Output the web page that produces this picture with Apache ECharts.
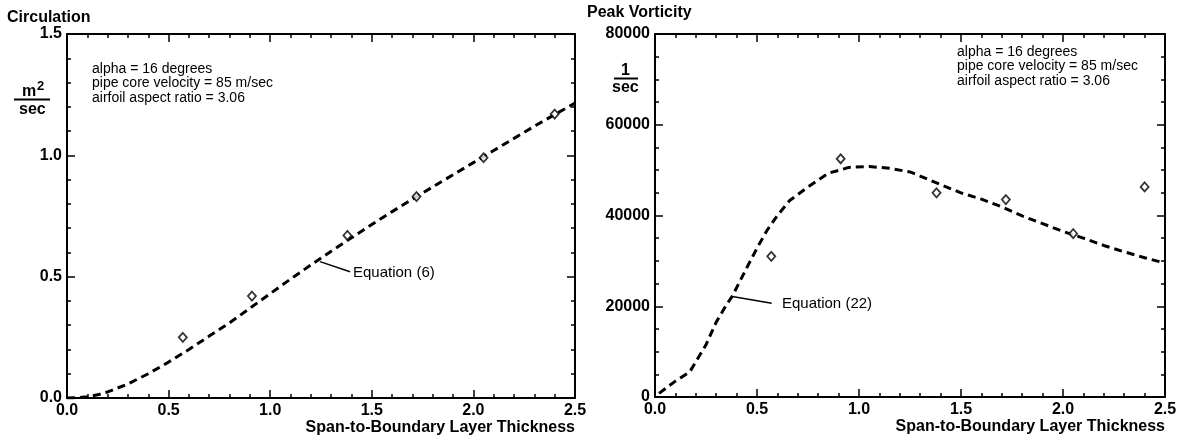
<!DOCTYPE html>
<html>
<head>
<meta charset="utf-8">
<script src="https://cdn.jsdelivr.net/npm/echarts@6/dist/echarts.min.js"></script>
<style>
  html, body { margin: 0; padding: 0; background: #fff; }
  #chart { width: 1187px; height: 441px; }
</style>
</head>
<body>
<div id="chart"></div>
<script>
// Measured span-to-boundary-layer-thickness ratios (shared by both panels)
const spanRatio = [0.57, 0.91, 1.38, 1.72, 2.05, 2.40];
// Measured circulation, m^2/sec
const circulationMeasured = [0.25, 0.42, 0.67, 0.83, 0.99, 1.17];
// Measured peak vorticity, 1/sec
const vorticityMeasured = [31000, 52500, 45000, 43500, 36000, 46300];

// Equation (6) prediction of circulation
const eq6Span = [0, 0.05, 0.1, 0.15, 0.2, 0.3, 0.4, 0.5, 0.6, 0.7, 0.8, 0.9, 1.0, 1.1, 1.2, 1.3,
  1.4, 1.5, 1.6, 1.7, 1.8, 1.9, 2.0, 2.1, 2.2, 2.3, 2.4, 2.5];
const eq6Circulation = [0, 0.001, 0.005, 0.013, 0.025, 0.058, 0.10, 0.148, 0.20, 0.255, 0.31, 0.37,
  0.43, 0.49, 0.548, 0.605, 0.66, 0.715, 0.768, 0.82, 0.87, 0.92, 0.97, 1.02, 1.07, 1.12, 1.168, 1.215];

// Equation (22) prediction of peak vorticity
const eq22Span = [0.02, 0.1, 0.17, 0.25, 0.3, 0.35, 0.38, 0.45, 0.5, 0.55, 0.6, 0.66, 0.75, 0.85,
  0.95, 1.05, 1.15, 1.25, 1.3, 1.4, 1.5, 1.6, 1.7, 1.8, 1.9, 2.0, 2.1, 2.2, 2.3, 2.4, 2.5];
const eq22Vorticity = [800, 3500, 5500, 11500, 16500, 20300, 22300, 28500, 32800, 36800, 40000,
  43300, 46300, 49300, 50600, 50800, 50400, 49600, 48700, 46800, 45000, 43600, 41900, 39900,
  38200, 36500, 35000, 33400, 32000, 30700, 29500];

// Axis ranges and tick steps
const spanRange = [0, 2.5, 0.5];
const circulationRange = [0, 1.5, 0.5];
const vorticityRange = [0, 80000, 20000];

const FONT = '"Liberation Sans", Arial, Helvetica, sans-serif';
const BLACK = '#000';

const zip = (xs, ys) => xs.map((x, i) => [x, ys[i]]);

function frameAxis(gridIndex, position, range, opts) {
  const main = position === 'bottom' || position === 'left';
  return Object.assign({
    gridIndex: gridIndex,
    type: 'value',
    position: position,
    min: range[0],
    max: range[1],
    interval: range[2],
    axisLine: { show: true, onZero: false, lineStyle: { color: BLACK, width: 2 } },
    axisTick: { show: true, inside: true, length: 8, lineStyle: { color: BLACK, width: 1.5 } },
    minorTick: { show: true, splitNumber: 5, length: 4, lineStyle: { color: BLACK, width: 1.5 } },
    splitLine: { show: false },
    minorSplitLine: { show: false },
    axisLabel: {
      show: main,
      color: BLACK,
      fontFamily: FONT,
      fontWeight: 'bold',
      fontSize: 16
    }
  }, opts || {});
}

const xName = {
  name: 'Span-to-Boundary Layer Thickness',
  nameLocation: 'end',
  nameGap: 0,
  nameTextStyle: {
    color: BLACK, fontFamily: FONT, fontWeight: 'bold', fontSize: 16,
    align: 'right', verticalAlign: 'top', padding: [22, 0, 0, 0]
  }
};

const dashStyle = { color: BLACK, width: 3, type: [8, 5], cap: 'butt' };
const diamond = {
  symbol: 'diamond',
  symbolSize: [8, 9],
  itemStyle: { color: '#fff', borderColor: BLACK, borderWidth: 1.8 }
};
const leaderStyle = { color: BLACK, width: 1.5, type: 'solid' };

function annotation(x, y, lines) {
  return lines.map((t, i) => ({
    type: 'text', left: x, top: y + i * 14.5,
    style: { text: t, fill: BLACK, font: '14px ' + FONT }
  }));
}

const option = {
  animation: false,
  backgroundColor: '#fff',
  grid: [
    { left: 67, top: 34, width: 508, height: 364 },
    { left: 655, top: 34, width: 510, height: 363 }
  ],
  xAxis: [
    frameAxis(0, 'bottom', spanRange, Object.assign({
      axisLabel: { show: true, color: BLACK, fontFamily: FONT, fontWeight: 'bold', fontSize: 16,
        margin: 5, formatter: v => v.toFixed(1) }
    }, xName)),
    frameAxis(0, 'top', spanRange),
    frameAxis(1, 'bottom', spanRange, Object.assign({
      axisLabel: { show: true, color: BLACK, fontFamily: FONT, fontWeight: 'bold', fontSize: 16,
        margin: 5, formatter: v => v.toFixed(1) }
    }, xName)),
    frameAxis(1, 'top', spanRange)
  ],
  yAxis: [
    frameAxis(0, 'left', circulationRange, {
      axisLabel: { show: true, color: BLACK, fontFamily: FONT, fontWeight: 'bold', fontSize: 16,
        margin: 5, formatter: v => v.toFixed(1) }
    }),
    frameAxis(0, 'right', circulationRange),
    frameAxis(1, 'left', vorticityRange, {
      minorTick: { show: true, splitNumber: 4, length: 4, lineStyle: { color: BLACK, width: 1.5 } },
      axisLabel: { show: true, color: BLACK, fontFamily: FONT, fontWeight: 'bold', fontSize: 16,
        margin: 5, formatter: v => String(v) }
    }),
    frameAxis(1, 'right', vorticityRange, {
      minorTick: { show: true, splitNumber: 4, length: 4, lineStyle: { color: BLACK, width: 1.5 } }
    })
  ],
  series: [
    {
      name: 'Equation (6)',
      type: 'line',
      xAxisIndex: 0, yAxisIndex: 0,
      data: zip(eq6Span, eq6Circulation),
      showSymbol: false,
      lineStyle: dashStyle,
      z: 2,
      markLine: {
        silent: true,
        symbol: ['none', 'none'],
        lineStyle: leaderStyle,
        label: { show: false },
        data: [[{ coord: [1.245, 0.562] }, { coord: [1.393, 0.52] }]]
      }
    },
    Object.assign({
      name: 'Circulation',
      type: 'scatter',
      xAxisIndex: 0, yAxisIndex: 0,
      data: zip(spanRatio, circulationMeasured),
      z: 3
    }, diamond),
    {
      name: 'Equation (22)',
      type: 'line',
      xAxisIndex: 2, yAxisIndex: 2,
      data: zip(eq22Span, eq22Vorticity),
      showSymbol: false,
      lineStyle: dashStyle,
      z: 2,
      markLine: {
        silent: true,
        symbol: ['none', 'none'],
        lineStyle: leaderStyle,
        label: { show: false },
        data: [[{ coord: [0.379, 22150] }, { coord: [0.572, 20670] }]]
      }
    },
    Object.assign({
      name: 'Peak Vorticity',
      type: 'scatter',
      xAxisIndex: 2, yAxisIndex: 2,
      data: zip(spanRatio, vorticityMeasured),
      z: 3
    }, diamond)
  ],
  graphic: [
    // panel titles
    { type: 'text', left: 7, top: 10, style: { text: 'Circulation', fill: BLACK, font: 'bold 16px ' + FONT } },
    { type: 'text', left: 587, top: 5, style: { text: 'Peak Vorticity', fill: BLACK, font: 'bold 16px ' + FONT } },
    // units m^2 / sec
    { type: 'text', left: 22, top: 84, style: { text: 'm', fill: BLACK, font: 'bold 16px ' + FONT } },
    { type: 'text', left: 37, top: 80, style: { text: '2', fill: BLACK, font: 'bold 13px ' + FONT } },
    { type: 'line', shape: { x1: 14, y1: 99.5, x2: 50, y2: 99.5 }, style: { stroke: BLACK, lineWidth: 2 } },
    { type: 'text', left: 19, top: 102, style: { text: 'sec', fill: BLACK, font: 'bold 16px ' + FONT } },
    // units 1 / sec
    { type: 'text', left: 621, top: 63, style: { text: '1', fill: BLACK, font: 'bold 16px ' + FONT } },
    { type: 'line', shape: { x1: 614, y1: 78.5, x2: 638, y2: 78.5 }, style: { stroke: BLACK, lineWidth: 2 } },
    { type: 'text', left: 612, top: 80, style: { text: 'sec', fill: BLACK, font: 'bold 16px ' + FONT } },
    // equation labels
    { type: 'text', left: 353, top: 265, style: { text: 'Equation (6)', fill: BLACK, font: '15px ' + FONT } },
    { type: 'text', left: 782, top: 296, style: { text: 'Equation (22)', fill: BLACK, font: '15px ' + FONT } }
  ]
    .concat(annotation(92, 62, ['alpha = 16 degrees', 'pipe core velocity = 85 m/sec', 'airfoil aspect ratio = 3.06']))
    .concat(annotation(957, 45, ['alpha = 16 degrees', 'pipe core velocity = 85 m/sec', 'airfoil aspect ratio = 3.06']))
};

const chart = echarts.init(document.getElementById('chart'), null, { renderer: 'canvas' });
chart.setOption(option);
</script>
</body>
</html>
